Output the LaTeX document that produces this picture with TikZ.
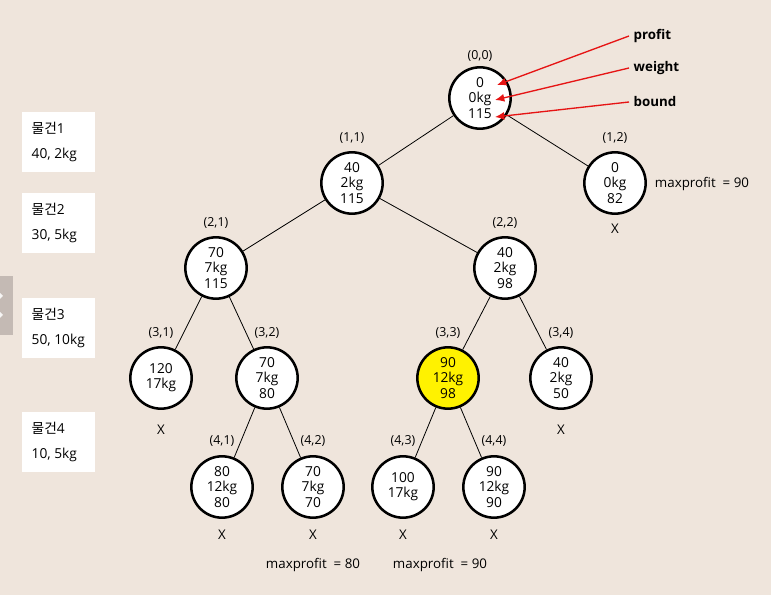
\documentclass[tikz,border=0pt]{standalone}
\usepackage{fontspec}
\setmainfont{Open Sans}
\newfontfamily\kr{Noto Sans CJK KR}
\usetikzlibrary{arrows.meta}
\definecolor{bg}{RGB}{239,229,220}
\definecolor{tabgray}{RGB}{196,186,180}
\definecolor{arrred}{RGB}{230,20,20}
\begin{document}
\begin{tikzpicture}[x=0.75pt,y=-0.75pt,
  st/.style={circle,draw=black,line width=1.9pt,fill=white,minimum size=46pt,inner sep=0pt,align=center,font=\fontsize{10.3}{11.4}\selectfont},
  lab/.style={font=\fontsize{9.3}{10}\selectfont},
  xmark/.style={font=\fontsize{10}{11}\selectfont},
  mp/.style={font=\fontsize{10}{11}\selectfont},
  edge/.style={draw=black,line width=0.6pt},
  itembox/.style={fill=white,draw=none,minimum width=54.75pt,minimum height=45pt,inner sep=0pt},
  itemtxt/.style={anchor=west,align=left,font=\fontsize{10.3}{18.5}\selectfont},
  redarr/.style={draw=arrred,line width=1pt,-{Latex[length=7pt,width=6pt]}},
  keyw/.style={anchor=west,font=\fontsize{10}{11}\selectfont\bfseries}]
\fill[bg] (0,0) rectangle (771,595);
\useasboundingbox (0,0) rectangle (771,595);
\fill[tabgray] (0,276) rectangle (13,335);
\fill[white!85!tabgray] (0,293) -- (3,296) -- (0,299) -- cycle;
\fill[white!85!tabgray] (0,312) -- (3,315) -- (0,318) -- cycle;

% item boxes
\node[itembox] (b1) at (58.5,142) {};
\node[itembox] (b2) at (58.5,223) {};
\node[itembox] (b3) at (58.5,328) {};
\node[itembox] (b4) at (58.5,442) {};
\node[itemtxt] (t1) at (27,142) {{\kr 물건}1\\40, 2kg};
\node[itemtxt] (t2) at (27,223) {{\kr 물건}2\\30, 5kg};
\node[itemtxt] (t3) at (27,328) {{\kr 물건}3\\50, 10kg};
\node[itemtxt] (t4) at (27,442) {{\kr 물건}4\\10, 5kg};

% nodes
\node[st] (n00) at (480,98) {0\\0kg\\115};
\node[st] (n11) at (352,183) {40\\2kg\\115};
\node[st] (n12) at (615,183) {0\\0kg\\82};
\node[st] (n21) at (216,268) {70\\7kg\\115};
\node[st] (n22) at (505,268) {40\\2kg\\98};
\node[st] (n31) at (161,378) {120\\17kg};
\node[st] (n32) at (267,378) {70\\7kg\\80};
\node[st,fill=yellow] (n33) at (448,378) {90\\12kg\\98};
\node[st] (n34) at (561,378) {40\\2kg\\50};
\node[st] (n41) at (222,487) {80\\12kg\\80};
\node[st] (n42) at (313,487) {70\\7kg\\70};
\node[st] (n43) at (403,487) {100\\17kg};
\node[st] (n44) at (494,487) {90\\12kg\\90};

% labels
\node[lab] (l00) at (480,56) {(0,0)};
\node[lab] (l11) at (352,138) {(1,1)};
\node[lab] (l12) at (615,138) {(1,2)};
\node[lab] (l21) at (216,223) {(2,1)};
\node[lab] (l22) at (505,223) {(2,2)};
\node[lab] (l31) at (161,333) {(3,1)};
\node[lab] (l32) at (267,333) {(3,2)};
\node[lab] (l33) at (448,333) {(3,3)};
\node[lab] (l34) at (561,333) {(3,4)};
\node[lab] (l41) at (222,441) {(4,1)};
\node[lab] (l42) at (313,441) {(4,2)};
\node[lab] (l43) at (403,441) {(4,3)};
\node[lab] (l44) at (494,441) {(4,4)};

% X marks
\node[xmark] (x12) at (615,229) {X};
\node[xmark] (x31) at (161,430) {X};
\node[xmark] (x34) at (561,430) {X};
\node[xmark] (x41) at (222,535) {X};
\node[xmark] (x42) at (313,535) {X};
\node[xmark] (x43) at (403,535) {X};
\node[xmark] (x44) at (494,535) {X};

% maxprofit
\node[mp] (m1) at (702,184) {maxprofit~~=~90};
\node[mp] (m2) at (313,565) {maxprofit~~=~80};
\node[mp] (m3) at (440,565) {maxprofit~~=~90};

% edges
\draw[edge] (n00) -- (n11);
\draw[edge] (n00) -- (n12);
\draw[edge] (n11) -- (n21);
\draw[edge] (n11) -- (n22);
\draw[edge] (n21) -- (n31);
\draw[edge] (n21) -- (n32);
\draw[edge] (n22) -- (n33);
\draw[edge] (n22) -- (n34);
\draw[edge] (n32) -- (n41);
\draw[edge] (n32) -- (n42);
\draw[edge] (n33) -- (n43);
\draw[edge] (n33) -- (n44);

% keys
\node[keyw] (kp) at (629,36) {profit};
\node[keyw] (kw) at (629,68) {weight};
\node[keyw] (kb) at (629,102) {bound};
\coordinate (cp) at (497,85);
\coordinate (cw) at (495,100);
\coordinate (cb) at (495,117);
\draw[redarr] (kp.west) -- (cp);
\draw[redarr] (kw.west) -- (cw);
\draw[redarr] (kb.west) -- (cb);
\end{tikzpicture}
\end{document}
